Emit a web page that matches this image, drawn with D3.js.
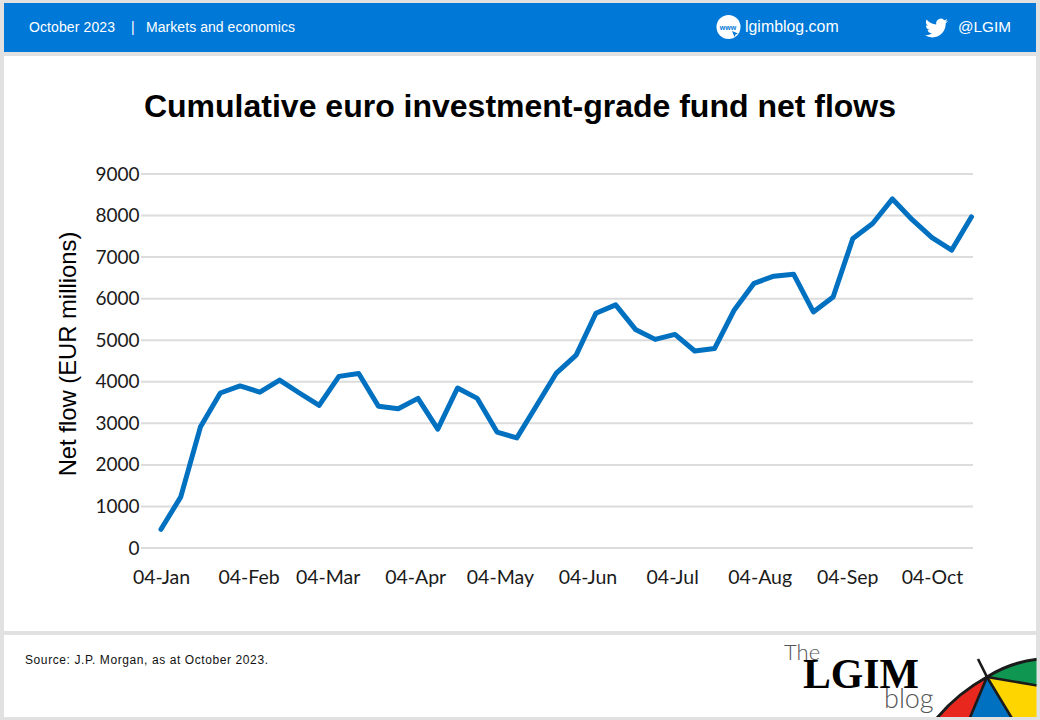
<!DOCTYPE html>
<html><head><meta charset="utf-8">
<script src="https://cdn.jsdelivr.net/npm/d3@7/dist/d3.min.js"></script>
<style>html,body{margin:0;padding:0;background:#e1e1e1;overflow:hidden}svg{display:block}</style>
</head><body><svg id="c" width="1040" height="720"></svg>
<script>
const weeks = ["2023-01-04","2023-01-11","2023-01-18","2023-01-25","2023-02-01","2023-02-08","2023-02-15","2023-02-22","2023-03-01","2023-03-08","2023-03-15","2023-03-22","2023-03-29","2023-04-05","2023-04-12","2023-04-19","2023-04-26","2023-05-03","2023-05-10","2023-05-17","2023-05-24","2023-05-31","2023-06-07","2023-06-14","2023-06-21","2023-06-28","2023-07-05","2023-07-12","2023-07-19","2023-07-26","2023-08-02","2023-08-09","2023-08-16","2023-08-23","2023-08-30","2023-09-06","2023-09-13","2023-09-20","2023-09-27","2023-10-04","2023-10-11","2023-10-18"];
const netFlow = [450,1230,2920,3730,3900,3750,4040,3730,3430,4130,4200,3410,3350,3600,2860,3850,3600,2790,2650,3430,4210,4640,5650,5850,5260,5020,5140,4740,4800,5730,6370,6540,6590,5680,6040,7450,7810,8400,7900,7470,7170,7970];
const xTickDates = ["2023-01-04","2023-02-04","2023-03-04","2023-04-04","2023-05-04","2023-06-04","2023-07-04","2023-08-04","2023-09-04","2023-10-04"];
const yTicks = [0,1000,2000,3000,4000,5000,6000,7000,8000,9000];
const titleText = "Cumulative euro investment-grade fund net flows";
const yLabel = "Net flow (EUR millions)";
const sourceText = "Source: J.P. Morgan, as at October 2023.";

const parse = d3.utcParse("%Y-%m-%d");
const fmt = d3.utcFormat("%d-%b");
const svg = d3.select("#c");
const HEL = "'Liberation Sans',Arial,sans-serif";
const CAL = "Lato,sans-serif";

// page panels
svg.append("rect").attr("x",4).attr("y",3).attr("width",1032).attr("height",49).attr("fill","#0078d7");
svg.append("rect").attr("x",4).attr("y",56).attr("width",1032).attr("height",575).attr("fill","#fff");
svg.append("rect").attr("x",4).attr("y",635).attr("width",1032).attr("height",82).attr("fill","#fff");

// header
const hdr = (t,x,s=14)=>svg.append("text").attr("x",x).attr("y",32).attr("fill","#fff")
  .attr("font-family",HEL).attr("font-size",s).text(t);
hdr("October 2023",29,14).attr("textLength",86);
hdr("|",131,14);
hdr("Markets and economics",146,14).attr("textLength",149);
svg.append("circle").attr("cx",728.5).attr("cy",27).attr("r",12).attr("fill","#fff");
svg.append("text").attr("x",728).attr("y",30).attr("text-anchor","middle").attr("fill","#0078d7")
  .attr("font-family",HEL).attr("font-weight","bold").attr("font-size",7).text("www");
svg.append("path").attr("d","M732 31l6 2.5-2.5 1 -1 2.6z").attr("fill","#0078d7");
hdr("lgimblog.com",745,15.9);
svg.append("path").attr("transform","translate(925,16.5) scale(0.96)").attr("fill","#fff")
  .attr("d","M23.953 4.57a10 10 0 01-2.825.775 4.958 4.958 0 002.163-2.723c-.951.555-2.005.959-3.127 1.184a4.92 4.92 0 00-8.384 4.482C7.69 8.095 4.067 6.13 1.64 3.162a4.822 4.822 0 00-.666 2.475c0 1.71.87 3.213 2.188 4.096a4.904 4.904 0 01-2.228-.616v.06a4.923 4.923 0 003.946 4.827 4.996 4.996 0 01-2.212.085 4.936 4.936 0 004.604 3.417 9.867 9.867 0 01-6.102 2.105c-.39 0-.779-.023-1.17-.067a13.995 13.995 0 007.557 2.209c9.053 0 13.998-7.496 13.998-13.985 0-.21 0-.42-.015-.63A9.935 9.935 0 0024 4.59z");
hdr("@LGIM",958,15.3);

// title
svg.append("text").attr("x",520).attr("y",117).attr("text-anchor","middle")
  .attr("font-family",HEL).attr("font-weight","bold").attr("font-size",32).attr("fill","#000").text(titleText);

// scales
const dates = weeks.map(parse);
const x = d3.scaleUtc().domain([dates[0],dates[dates.length-1]]).range([161,971.5]);
const y = d3.scaleLinear().domain([0,9000]).range([548,174]);

// y axis + grid
const gy = svg.append("g").attr("transform","translate(141,0)")
  .call(d3.axisLeft(y).tickValues(yTicks).tickSize(0).tickPadding(1.5).tickFormat(d3.format("d")));
gy.select(".domain").remove();
gy.selectAll("text").attr("font-family",CAL).attr("font-size",19).attr("fill","#1a1a1a");
svg.append("g").selectAll("line").data(yTicks).join("line")
  .attr("x1",141).attr("x2",973).attr("y1",d=>y(d)).attr("y2",d=>y(d))
  .attr("stroke","#dcdcdc").attr("stroke-width",2);

// x axis
const gx = svg.append("g").attr("transform","translate(0,548)")
  .call(d3.axisBottom(x).tickValues(xTickDates.map(parse)).tickSize(0).tickPadding(22).tickFormat(fmt));
gx.select(".domain").remove();
gx.selectAll("text").attr("font-family",CAL).attr("font-size",19.5).attr("fill","#1a1a1a");

// y title
svg.append("text").attr("transform","translate(76,354) rotate(-90)").attr("text-anchor","middle")
  .attr("font-family",HEL).attr("font-size",23.8).attr("fill","#000").text(yLabel);

// line
svg.append("path").datum(netFlow.map((v,i)=>[dates[i],v]))
  .attr("fill","none").attr("stroke","#0070c0").attr("stroke-width",5)
  .attr("stroke-linejoin","round").attr("stroke-linecap","round")
  .attr("d",d3.line().x(d=>x(d[0])).y(d=>y(d[1])));

// footer
svg.append("text").attr("x",25).attr("y",664).attr("font-family",HEL).attr("font-size",12).attr("fill","#111")
  .attr("textLength",243).text(sourceText);

// logo
svg.append("text").attr("x",784).attr("y",660).attr("font-family","Lato,sans-serif").attr("font-weight",300)
  .attr("font-size",22).attr("fill","#555").text("The");
svg.append("text").attr("x",803).attr("y",688).attr("font-family","'Liberation Serif',serif").attr("font-weight","bold")
  .attr("font-size",42).attr("fill","#000").attr("textLength",116).attr("lengthAdjust","spacingAndGlyphs").text("LGIM");
svg.append("text").attr("x",884).attr("y",708).attr("font-family","Lato,sans-serif").attr("font-weight",300)
  .attr("font-size",27).attr("fill","#555").text("blog");

// umbrella emblem
const defs = svg.append("defs");
defs.append("clipPath").attr("id","u").append("rect").attr("x",900).attr("y",635).attr("width",136.5).attr("height",82);
const u = svg.append("g").attr("clip-path","url(#u)");
const A = [987,677];
u.append("path").attr("d",`M${A}Q1010 662 1040 659L1040 686Z`).attr("fill","#0f9650");
u.append("path").attr("d",`M${A}L1040 686L1040 720L1014 720Z`).attr("fill","#ffd500");
u.append("path").attr("d",`M${A}L1014 720L970 720Z`).attr("fill","#0070c0");
u.append("path").attr("d",`M${A}L970 720L936 720Q958 695 ${A}Z`).attr("fill","#e8281e");
u.append("path").attr("d",`M937 718Q958 693 ${A}Q1010 662 1040 659`).attr("fill","none").attr("stroke","#1a1a1a").attr("stroke-width",3);
[[1040,686],[1013,720],[969,720],[978,659]].forEach(p=>{
  u.append("line").attr("x1",A[0]).attr("y1",A[1]).attr("x2",p[0]).attr("y2",p[1]).attr("stroke","#1a1a1a").attr("stroke-width",2.6);
});
</script></body></html>
